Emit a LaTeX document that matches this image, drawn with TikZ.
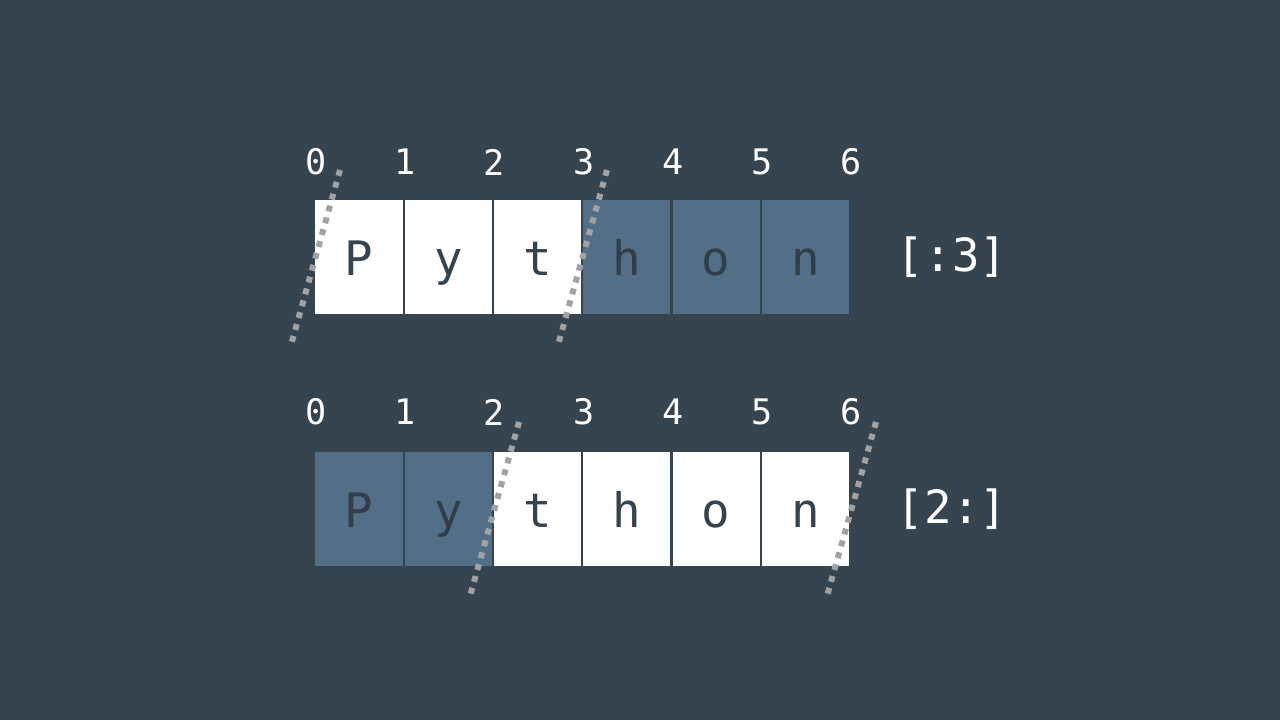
\documentclass[tikz,border=0pt]{standalone}
\usepackage{fontspec}
\setmonofont{DejaVu Sans Mono}
\usetikzlibrary{calc}
\definecolor{BgClr}{HTML}{36444F}
\definecolor{CutClr}{HTML}{536F87}
\definecolor{MarkClr}{HTML}{A0A2A4}

\begin{document}
\begin{tikzpicture}[x=0.01cm,y=-0.01cm,
  cell/.style={minimum width=0.87cm,minimum height=1.14cm,inner sep=0pt,
    text height=10.4pt,text depth=0pt,
    font=\ttfamily\fontsize{13.5}{13.5}\selectfont,text=BgClr},
  keep/.style={cell,fill=white},
  drop/.style={cell,fill=CutClr,text=BgClr!90!black},
  index/.style={font=\ttfamily\fontsize{10}{10}\selectfont,text=white,inner sep=0pt},
  slice/.style={font=\ttfamily\fontsize{13}{13}\selectfont,text=white,inner sep=0pt},
  cutmark/.style={MarkClr,line width=1.7pt,dash pattern=on 1.7pt off 1.8pt}]
\fill[BgClr] (0,0) rectangle (1280,720);
\useasboundingbox (0,0) rectangle (1280,720);

% top row: [:3]
\foreach \ch [count=\i from 0] in {P,y,t,h,o,n}{
  \ifnum\i<3 \def\st{keep}\else\def\st{drop}\fi
  \node[\st] (a\i) at (359+89.3*\i,257) {\ch};
}
\foreach \i in {0,...,6}
  \node[index] (ia\i) at (316+89.2*\i,162) {\i};
\node[slice] (sa) at (952,257) {[:3]};

% bottom row: [2:]
\foreach \ch [count=\i from 0] in {P,y,t,h,o,n}{
  \ifnum\i<2 \def\st{drop}\else\def\st{keep}\fi
  \node[\st] (b\i) at (359+89.3*\i,509) {\ch};
}
\foreach \i in {0,...,6}
  \node[index] (ib\i) at (316+89.2*\i,412) {\i};
\node[slice] (sb) at (952,509) {[2:]};

% cut marks
\coordinate (ca0) at (340,170); \coordinate (ca1) at (291,345);
\coordinate (ca2) at (607,170); \coordinate (ca3) at (558,345);
\coordinate (cb0) at (519,422); \coordinate (cb1) at (470,596);
\coordinate (cb2) at (876,422); \coordinate (cb3) at (827,596);
\draw[cutmark] (ca0) -- (ca1);
\draw[cutmark] (ca2) -- (ca3);
\draw[cutmark] (cb0) -- (cb1);
\draw[cutmark] (cb2) -- (cb3);

\end{tikzpicture}
\end{document}
